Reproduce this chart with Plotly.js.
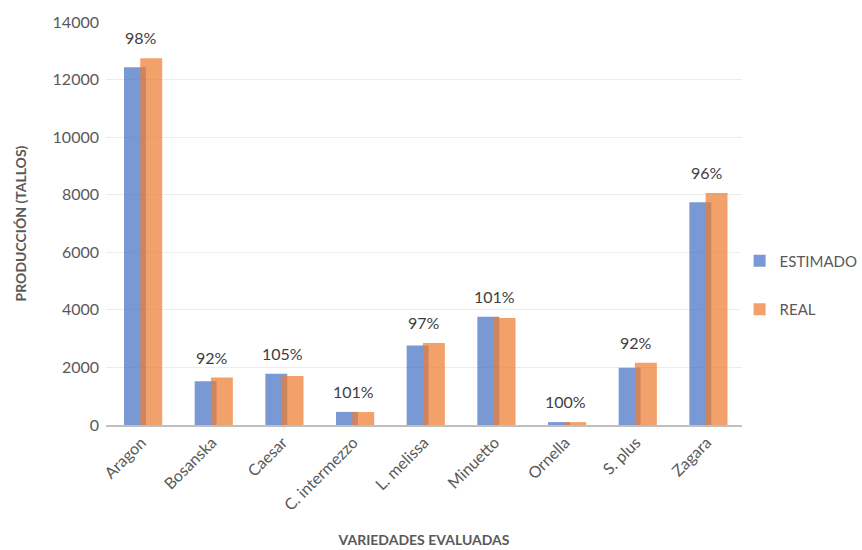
<!DOCTYPE html>
<html>
<head>
<meta charset="utf-8">
<script src="https://cdn.plot.ly/plotly-3.0.1.min.js"></script>
<style>html,body{margin:0;padding:0;background:#fff;}</style>
</head>
<body>
<div id="chart" style="width:862px;height:550px;"></div>
<script>
const categories = ["Aragon","Bosanska","Caesar","C. intermezzo","L. melissa","Minuetto","Ornella","S. plus","Zagara"];
const estimado = [12425, 1520, 1780, 455, 2760, 3760, 100, 1990, 7735];
const real = [12740, 1650, 1700, 450, 2845, 3720, 100, 2163, 8058];
const pctLabels = ["98%","92%","105%","101%","97%","101%","100%","92%","96%"];

const font = "Lato, 'Open Sans', 'Liberation Sans', sans-serif";
const grey = "#595959";

const traces = [
  {type:"bar", name:"ESTIMADO", x:categories, y:estimado, width:0.31, offset:-0.245,
   marker:{color:"rgba(68,114,196,0.72)"}, legendgroup:"a", hoverinfo:"y"},
  {type:"bar", name:"REAL", x:categories, y:real, width:0.31, offset:-0.015,
   marker:{color:"rgba(237,125,49,0.72)"}, legendgroup:"b", hoverinfo:"y"}
];

const annotations = categories.map((c,i)=>({
  x:c, y:Math.max(estimado[i], real[i]), xref:"x", yref:"y",
  text:pctLabels[i], showarrow:false, yanchor:"bottom", yshift:9,
  font:{family:font, size:16, color:"#404040"}
}));

const layout = {
  width:862, height:550,
  margin:{l:106, r:120, t:22, b:125, autoexpand:false},
  paper_bgcolor:"#fff", plot_bgcolor:"#fff",
  barmode:"overlay",
  font:{family:font, color:grey},
  showlegend:true,
  legend:{xref:"container", yref:"container", x:0.858, y:0.482, xanchor:"left", yanchor:"middle",
          font:{size:15, color:grey}, tracegroupgap:26, itemwidth:30},
  xaxis:{
    type:"category", tickangle:-45, tickfont:{size:16, color:grey},
    showline:true, linecolor:"#bfbfbf", linewidth:2, ticks:"",
    title:{text:"<b>VARIEDADES EVALUADAS</b>", font:{size:14, color:grey}, standoff:22},
    range:[-0.5, 8.5]
  },
  yaxis:{
    range:[0,14000], dtick:2000, tickformat:"d",
    tickfont:{size:16, color:grey},
    showgrid:true, gridcolor:"#ececec", gridwidth:1,
    zeroline:false, showline:false, ticks:"", ticklabelstandoff:6,
    title:{text:"<b>PRODUCCIÓN (TALLOS)</b>", font:{size:14, color:grey}, standoff:22}
  },
  annotations:annotations
};

Plotly.newPlot("chart", traces, layout, {displayModeBar:false, staticPlot:true});
</script>
</body>
</html>
